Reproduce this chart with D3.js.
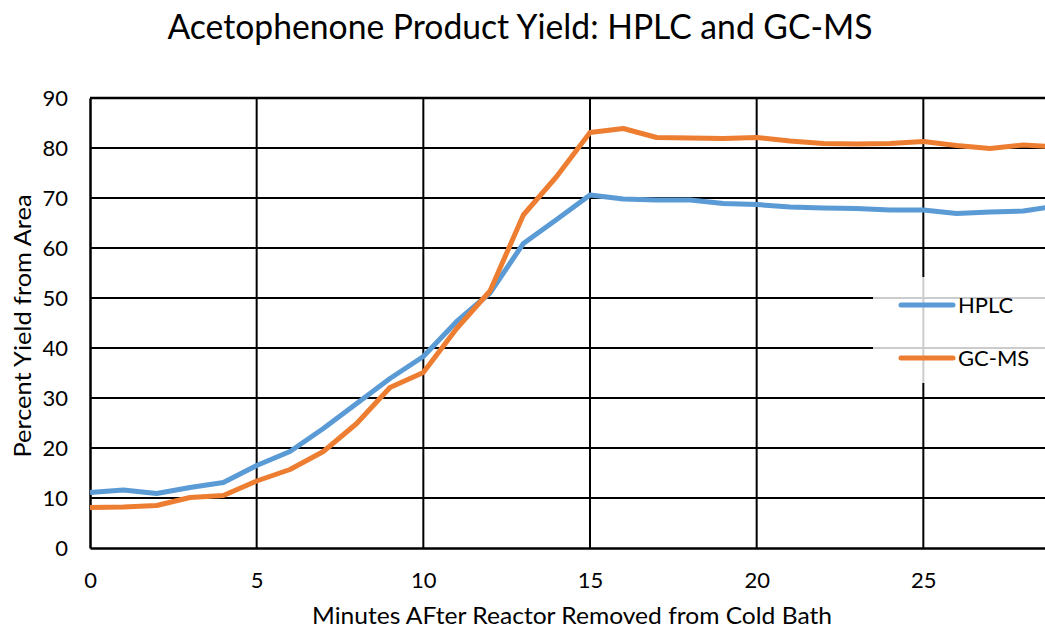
<!DOCTYPE html>
<html>
<head>
<meta charset="utf-8">
<script src="https://cdn.jsdelivr.net/npm/d3@7"></script>
<style>
  html, body { margin: 0; padding: 0; background: #fff; overflow: hidden; }
  svg { display: block; font-family: Lato, "Open Sans", "DejaVu Sans", sans-serif; }
</style>
</head>
<body>
<svg id="chart" width="1045" height="629"></svg>
<script>
// Sampling times (minutes after the reactor left the cold bath)
const minutes = [0, 1, 2, 3, 4, 5, 6, 7, 8, 9, 10, 11, 12, 13, 14, 15, 16, 17, 18, 19, 20, 21, 22, 23, 24, 25, 26, 27, 28, 29];
// Percent yield from peak area, HPLC
const hplc = [11.1, 11.6, 10.9, 12.1, 13.1, 16.5, 19.3, 23.9, 28.9, 33.9, 38.3, 45.3, 51.0, 60.9, 65.7, 70.6, 69.8, 69.6, 69.6, 68.9, 68.7, 68.2, 68.0, 67.9, 67.6, 67.6, 66.9, 67.2, 67.4, 68.4];
// Percent yield from peak area, GC-MS
const gcms = [8.1, 8.2, 8.5, 10.1, 10.5, 13.4, 15.7, 19.3, 24.9, 32.1, 35.1, 43.9, 51.4, 66.6, 74.3, 83.1, 83.9, 82.1, 82.0, 81.9, 82.1, 81.4, 80.9, 80.8, 80.9, 81.3, 80.5, 79.9, 80.6, 80.2];

const xTicks = [0, 5, 10, 15, 20, 25];
const yTicks = [0, 10, 20, 30, 40, 50, 60, 70, 80, 90];

const seriesNames = ["HPLC", "GC-MS"];
const seriesColors = ["#5B9BD5", "#ED7D31"];

const svg = d3.select("#chart");
const plotLeft = 90, plotTop = 98, plotBottom = 548, plotRight = 1090;

const x = d3.scaleLinear().domain([0, 30]).range([plotLeft, plotRight]);
const y = d3.scaleLinear().domain([0, 90]).range([plotBottom, plotTop]);

// Gridlines
const grid = svg.append("g");
grid.selectAll("line.h").data(yTicks.filter(d => d > 0)).join("line")
  .attr("x1", plotLeft).attr("x2", plotRight)
  .attr("y1", d => y(d)).attr("y2", d => y(d))
  .attr("stroke", "#000").attr("stroke-width", d => d === 90 ? 2.5 : 2);
grid.selectAll("line.v").data(xTicks.filter(d => d > 0)).join("line")
  .attr("x1", d => x(d)).attr("x2", d => x(d))
  .attr("y1", plotTop).attr("y2", plotBottom)
  .attr("stroke", "#000").attr("stroke-width", 2);

// Axes
const xAxis = svg.append("g").attr("transform", `translate(0,${plotBottom})`)
  .call(d3.axisBottom(x).tickValues(xTicks).tickSize(0).tickPadding(20));
const yAxis = svg.append("g").attr("transform", `translate(${plotLeft},0)`)
  .call(d3.axisLeft(y).tickValues(yTicks).tickSize(0).tickPadding(22));
[xAxis, yAxis].forEach(a => {
  a.select(".domain").attr("stroke", "#000").attr("stroke-width", 2.5);
  a.selectAll("text").attr("font-family", "Lato, sans-serif").attr("font-size", 22).attr("fill", "#000");
});
xAxis.selectAll("text").attr("dy", "0.9em");

// Series lines
const line = d3.line().x((d, i) => x(minutes[i])).y(d => y(d));
[hplc, gcms].forEach((vals, k) => {
  svg.append("path").datum(vals)
    .attr("d", line)
    .attr("fill", "none")
    .attr("stroke", seriesColors[k])
    .attr("stroke-width", 5)
    .attr("stroke-linejoin", "round");
});

// Legend
const legend = svg.append("g");
legend.append("rect")
  .attr("x", 873).attr("y", 277).attr("width", 200).attr("height", 106)
  .attr("fill", "#fff").attr("fill-opacity", 0.8);
seriesNames.forEach((name, k) => {
  const cy = 305 + k * 53;
  legend.append("line")
    .attr("x1", 901).attr("x2", 953).attr("y1", cy).attr("y2", cy)
    .attr("stroke", seriesColors[k]).attr("stroke-width", 5).attr("stroke-linecap", "round");
  legend.append("text")
    .attr("x", 958).attr("y", cy).attr("dy", "0.36em")
    .attr("font-size", 22).attr("fill", "#000")
    .text(name);
});

// Titles
svg.append("text")
  .attr("x", 520).attr("y", 39).attr("text-anchor", "middle")
  .attr("font-size", 34).attr("fill", "#000")
  .attr("textLength", 705).attr("lengthAdjust", "spacingAndGlyphs")
  .text("Acetophenone Product Yield: HPLC and GC-MS");

svg.append("text")
  .attr("x", 572).attr("y", 624).attr("text-anchor", "middle")
  .attr("font-size", 23).attr("fill", "#000")
  .attr("textLength", 520).attr("lengthAdjust", "spacingAndGlyphs")
  .text("Minutes AFter Reactor Removed from Cold Bath");

svg.append("text")
  .attr("transform", "translate(31,326) rotate(-90)")
  .attr("text-anchor", "middle")
  .attr("font-size", 23).attr("fill", "#000")
  .attr("textLength", 263).attr("lengthAdjust", "spacingAndGlyphs")
  .text("Percent Yield from Area");
</script>
</body>
</html>
